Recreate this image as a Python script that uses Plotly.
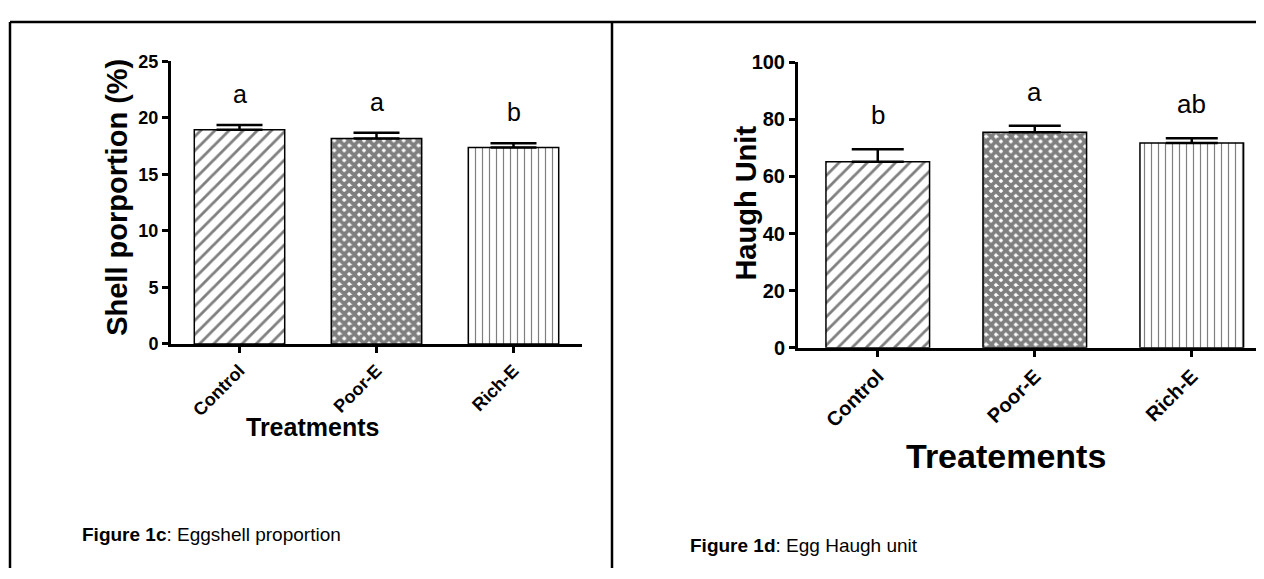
import plotly.graph_objects as go

# figure size (page body adds an 8px offset, so figure covers 8..1264 x 8..579)
W, H = 1256, 571
OFF = 8

treatments = ["Control", "Poor-E", "Rich-E"]
shell_mean = [18.95, 18.17, 17.37]
shell_sem = [0.42, 0.51, 0.38]
shell_letters = ["a", "a", "b"]

haugh_mean = [65.2, 75.5, 71.7]
haugh_sem = [4.3, 2.3, 1.7]
haugh_letters = ["b", "a", "ab"]

patterns = [
    dict(shape="/", size=10, solidity=0.28, fgcolor="black", bgcolor="white"),
    dict(shape="x", size=7, solidity=0.78, fgcolor="black", bgcolor="white"),
    dict(shape="|", size=7, solidity=0.17, fgcolor="black", bgcolor="white"),
]

FONT = "Liberation Sans, Arial, sans-serif"


def fx(p):
    return (p - OFF) / W


def fy(p):
    return 1 - (p - OFF) / H


fig = go.Figure()

for i, t in enumerate(treatments):
    fig.add_trace(go.Bar(
        x=[t], y=[shell_mean[i]], xaxis="x", yaxis="y",
        width=0.66,
        marker=dict(color="white", line=dict(color="black", width=1.5), pattern=patterns[i]),
        error_y=dict(type="data", symmetric=False, array=[shell_sem[i]], arrayminus=[0],
                     color="black", thickness=2.5, width=23),
        showlegend=False,
    ))
    fig.add_trace(go.Bar(
        x=[t], y=[haugh_mean[i]], xaxis="x2", yaxis="y2",
        width=0.66,
        marker=dict(color="white", line=dict(color="black", width=1.5), pattern=patterns[i]),
        error_y=dict(type="data", symmetric=False, array=[haugh_sem[i]], arrayminus=[0],
                     color="black", thickness=2.5, width=26),
        showlegend=False,
    ))

annotations = []
for i, t in enumerate(treatments):
    annotations.append(dict(x=t, y=shell_mean[i] + shell_sem[i], xref="x", yref="y",
                            text=shell_letters[i], showarrow=False, xanchor="center",
                            yanchor="bottom", yshift=15,
                            font=dict(family=FONT, size=25, color="black")))
    annotations.append(dict(x=t, y=haugh_mean[i] + haugh_sem[i], xref="x2", yref="y2",
                            text=haugh_letters[i], showarrow=False, xanchor="center",
                            yanchor="bottom", yshift=17,
                            font=dict(family=FONT, size=26, color="black")))

C = dict(xanchor="center", yanchor="middle", showarrow=False, xref="paper", yref="paper")
annotations += [
    dict(x=fx(117), y=fy(194), text="<b>Shell porportion (%)</b>", textangle=-90,
         font=dict(family=FONT, size=29, color="black"), **C),
    dict(x=fx(312), y=fy(432), text="<b>Treatments</b>",
         font=dict(family=FONT, size=25, color="black"), **C),
    dict(x=fx(746), y=fy(200), text="<b>Haugh Unit</b>", textangle=-90,
         font=dict(family=FONT, size=29, color="black"), **C),
    dict(x=fx(1006), y=fy(462), text="<b>Treatements</b>",
         font=dict(family=FONT, size=34, color="black"), **C),
    dict(x=fx(80), y=fy(544), xref="paper", yref="paper", xanchor="left", yanchor="middle",
         text="<b>Figure 1c</b>: Eggshell proportion", showarrow=False,
         font=dict(family=FONT, size=19, color="black")),
    dict(x=fx(688), y=fy(556), xref="paper", yref="paper", xanchor="left", yanchor="middle",
         text="<b>Figure 1d</b>: Egg Haugh unit", showarrow=False,
         font=dict(family=FONT, size=19, color="black")),
]

shapes = [
    dict(type="line", xref="paper", yref="paper", x0=fx(10), x1=1, y0=fy(11), y1=fy(11),
         line=dict(color="black", width=2.5)),
    dict(type="line", xref="paper", yref="paper", x0=fx(10), x1=fx(10), y0=fy(11), y1=0,
         line=dict(color="black", width=2.5)),
    dict(type="line", xref="paper", yref="paper", x0=fx(612), x1=fx(612), y0=fy(11), y1=0,
         line=dict(color="black", width=2.5)),
]

axis_common = dict(showgrid=False, zeroline=False, showline=True, linecolor="black", linewidth=3,
                   ticks="outside", tickwidth=2.5, tickcolor="black", ticklen=6)

fig.update_layout(
    width=W, height=H,
    margin=dict(l=0, r=0, t=0, b=0),
    paper_bgcolor="white", plot_bgcolor="white",
    xaxis=dict(domain=[fx(171), fx(582)], anchor="y", range=[-0.5, 2.5],
               tickangle=-45, tickfont=dict(family=FONT, size=18, color="black", weight="bold"),
               **axis_common),
    yaxis=dict(domain=[fy(346), fy(52)], anchor="x", range=[0, 25], tickvals=[0, 5, 10, 15, 20, 25],
               tickfont=dict(family=FONT, size=18, color="black", weight="bold"), **axis_common),
    xaxis2=dict(domain=[fx(798), 1.0], anchor="y2", range=[-0.508, 2.46],
                tickangle=-45, tickfont=dict(family=FONT, size=20, color="black", weight="bold"),
                **axis_common),
    yaxis2=dict(domain=[fy(350), fy(53)], anchor="x2", range=[0, 100],
                tickvals=[0, 20, 40, 60, 80, 100],
                tickfont=dict(family=FONT, size=20, color="black", weight="bold"), **axis_common),
    annotations=annotations,
    shapes=shapes,
)

fig.write_html("out.html")
